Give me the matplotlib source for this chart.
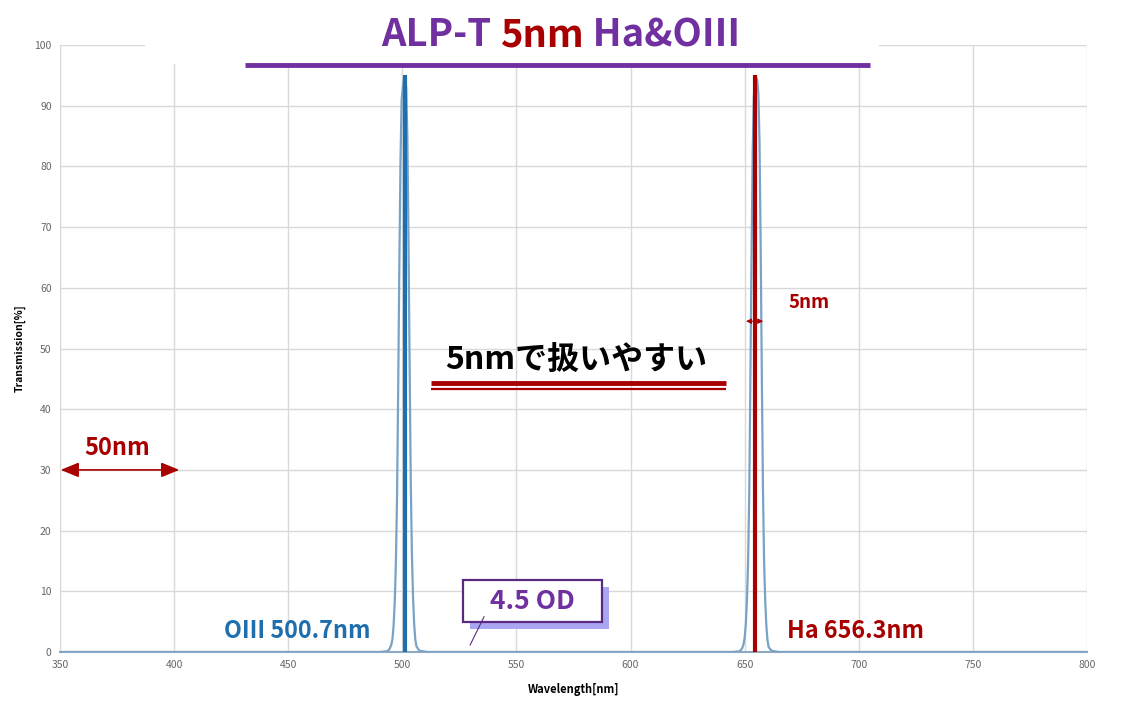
import matplotlib
matplotlib.use("Agg")
import matplotlib.pyplot as plt
from matplotlib.patches import Rectangle

plt.rcParams['font.family'] = ['Noto Sans CJK JP', 'DejaVu Sans']

# transmission curve (wavelength nm, transmission %)
wavelength = [350, 490, 493, 494, 494.5, 495.2, 495.7, 496.2, 496.7, 497.2, 497.7, 498.2,
              498.7, 499.2, 499.7, 500.2, 500.7, 501.2, 501.7, 502.2, 502.7, 503.2,
              503.7, 504.2, 504.7, 505.2, 505.7, 506.2, 507.5, 511, 640,
              644.5, 647.5, 648.3, 649.0, 649.5, 650.0, 650.5, 651.0, 651.5, 652.0,
              652.5, 653.0, 653.5, 654.0, 654.5, 655.0, 655.5, 656.0, 656.5, 657.0,
              657.5, 658.0, 658.5, 659.0, 659.5, 660.0, 660.5, 661.8, 665, 800]
transmission = [0, 0, 0.1, 0.3, 0.6, 1.2, 2.2, 4.5, 8.5, 15, 26, 44,
                64, 81, 91, 93, 94.5, 94.6, 93, 85, 68, 47,
                28, 16, 9, 4.5, 2, 0.9, 0.2, 0, 0,
                0, 0.1, 0.3, 0.7, 1.3, 2.4, 4.6, 8.6, 15, 26,
                45, 65, 82, 91.5, 94, 94.7, 94.2, 92, 84, 67,
                46, 27, 15, 8.5, 4.3, 1.9, 0.8, 0.2, 0, 0]

x_ticks = [350, 400, 450, 500, 550, 600, 650, 700, 750, 800]
y_ticks = [0, 10, 20, 30, 40, 50, 60, 70, 80, 90, 100]

oiii_line = 501.2
ha_line = 654.6
line_top = 95

purple = '#7030a0'
red = '#a80000'
blue = '#1f6ead'

fig = plt.figure(figsize=(11.21, 7.08), dpi=100)
ax = fig.add_axes([0.0535, 0.0791, 0.9162, 0.8573])

ax.plot(wavelength, transmission, color='#79a3c6', lw=1.6, zorder=3)
ax.vlines(oiii_line, 0, line_top, color=blue, lw=3, zorder=4)
ax.vlines(ha_line, 0, line_top, color=red, lw=3, zorder=4)

ax.set_xlim(350, 800)
ax.set_ylim(0, 100)
ax.set_xticks(x_ticks)
ax.set_yticks(y_ticks)
ax.grid(True, color='#d9d9d9', lw=1)
ax.tick_params(length=0, labelsize=7.5, labelcolor='#666666', pad=6)
for s in ['top', 'right']:
    ax.spines[s].set_visible(False)
ax.spines['left'].set_color('#d9d9d9')
ax.spines['bottom'].set_color('#8ea9c1')
ax.spines['bottom'].set_linewidth(1.5)
ax.set_xlabel('Wavelength[nm]', fontsize=8, fontweight='bold', labelpad=9)
ax.set_ylabel('Transmission[%]', fontsize=7.5, fontweight='bold', labelpad=6)

# white patch behind the title
ax.add_patch(Rectangle((387.2, 96.9), 321.8, 12, facecolor='white', edgecolor='none',
                       clip_on=False, zorder=2))

# title in three colours
fig.canvas.draw()
ren = fig.canvas.get_renderer()
x0 = 381 / 1121
for txt, c in [('ALP-T ', purple), ('5nm', red), (' Ha&OIII', purple)]:
    tt = fig.text(x0, 1 - 35 / 708, txt, color=c, fontsize=27.5, fontweight='bold',
                  ha='left', va='center')
    x0 += tt.get_window_extent(ren).width / 1121
ax.plot([431, 705], [96.7, 96.7], color=purple, lw=3.5, clip_on=False, zorder=6,
        solid_capstyle='butt')

# center message
ax.text(576.1, 47.9, '5nmで扱いやすい', fontsize=23, fontweight='bold', color='black',
        ha='center', va='center', zorder=6)
ax.plot([512.6, 641.8], [44.3, 44.3], color=red, lw=3.5, solid_capstyle='butt', zorder=6)
ax.plot([512.6, 641.8], [43.35, 43.35], color=red, lw=1.6, solid_capstyle='butt', zorder=6)

# 50nm arrow
ax.annotate('', xy=(350.3, 30), xytext=(402.3, 30),
            arrowprops=dict(arrowstyle='<|-|>,head_length=1.1,head_width=0.45',
                            color=red, lw=1.2, shrinkA=0, shrinkB=0), zorder=6)
ax.text(375, 33.6, '50nm', color=red, fontsize=17, fontweight='bold',
        ha='center', va='center')

# 5nm arrow
ax.annotate('', xy=(650.6, 54.5), xytext=(658.1, 54.5),
            arrowprops=dict(arrowstyle='<|-|>,head_length=0.3,head_width=0.15',
                            color=red, lw=0.8, shrinkA=0, shrinkB=0), zorder=6)
ax.text(678.2, 57.5, '5nm', color=red, fontsize=13.5, fontweight='bold',
        ha='center', va='center')

# line labels
ax.text(453.9, 3.5, 'OIII 500.7nm', color=blue, fontsize=16.8, fontweight='bold',
        ha='center', va='center')
ax.text(698.4, 3.5, 'Ha 656.3nm', color=red, fontsize=16.8, fontweight='bold',
        ha='center', va='center')

# 4.5 OD box
ax.add_patch(Rectangle((529.6, 3.75), 60.9, 6.9, facecolor='#a9a6f2', edgecolor='none', zorder=5))
ax.add_patch(Rectangle((526.6, 4.9), 60.9, 6.9, facecolor='white', edgecolor='#5a2a82',
                       lw=1.6, zorder=6))
ax.text(557, 8.35, '4.5 OD', color=purple, fontsize=19, fontweight='bold',
        ha='center', va='center', zorder=7)
ax.plot([529.7, 535.8], [1.15, 5.8], color='#5a2a82', lw=0.8, zorder=6)

fig.savefig('out.png', dpi=100)
